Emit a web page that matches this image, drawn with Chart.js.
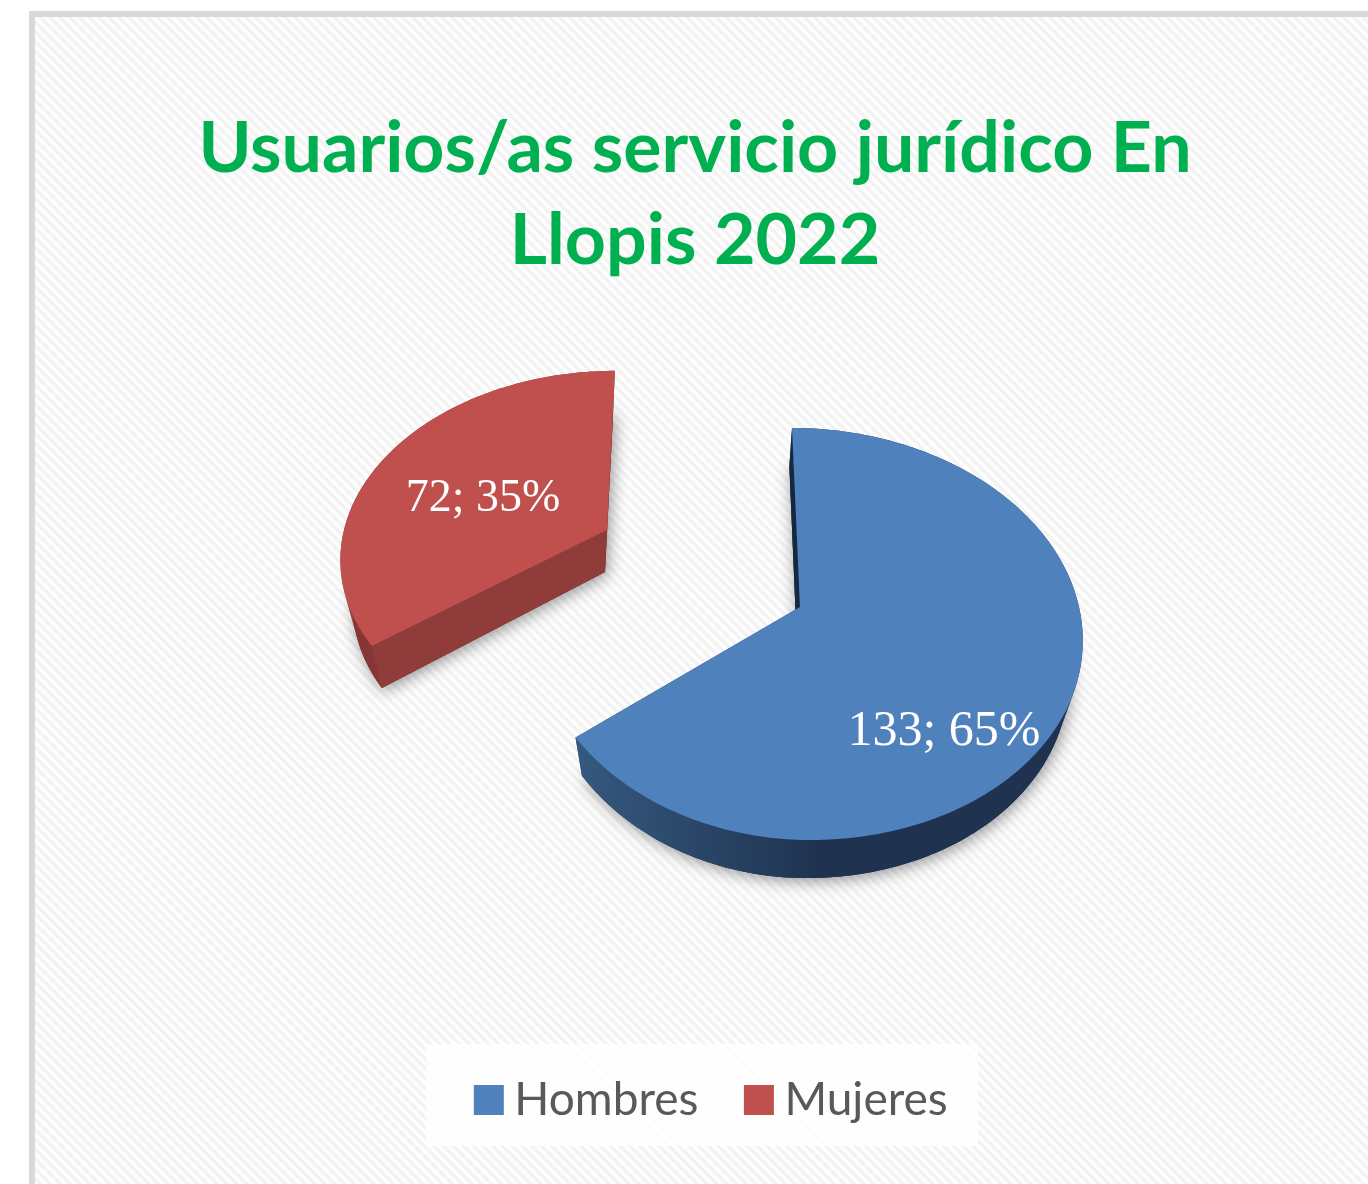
<!DOCTYPE html>
<html><head><meta charset="utf-8">
<style>html,body{margin:0;padding:0;background:#fff}canvas{display:block;filter:blur(.6px)}</style>
<script src="https://cdn.jsdelivr.net/npm/chart.js@4"></script></head>
<body><canvas id="c" width="1368" height="1184"></canvas>
<script>
const categories = ['Hombres', 'Mujeres'];
const values = [133, 72];
const percents = [65, 35];
const titleLines = ['Usuarios/as servicio jurídico En', 'Llopis 2022'];
const topColors = ['#4f81bd', '#c0504d'];

// perspective calibration of each slice (presentation only)
const P = [
 {top:{ax:800,ay:607,kxR:279,kxL:264,ky:202.5,vx:731},
  bot:{ax:797,ay:645,kxR:268,kxL:253,ky:202.5,vx:731}, lbl:[144,125], size:50},
 {top:{ax:607,ay:530,kxR:264.5,kxL:263,ky:180,vx:675},
  bot:{ax:605,ay:572,kxR:249,kxL:249,ky:180,vx:675}, lbl:[-124,-31], size:46}
];
const pers = 0.131;
function proj(f, th){
  const u=Math.sin(th), v=-Math.cos(th), s=1/(1-pers*v), k=u<0?f.kxL:f.kxR;
  return [f.ax+k*u*s+(f.ax-f.vx)*(s-1), f.ay+f.ky*v*s];
}
function arcPts(f,a,b){
  const n=Math.max(8,Math.ceil((b-a)/(Math.PI/180))), r=[];
  for(let i=0;i<=n;i++) r.push(proj(f,a+(b-a)*i/n));
  return r;
}
function poly(ctx,pts,fill){
  ctx.beginPath(); pts.forEach((p,i)=>i?ctx.lineTo(p[0],p[1]):ctx.moveTo(p[0],p[1]));
  ctx.closePath(); ctx.fillStyle=fill; ctx.fill();
}
const panelPlugin={id:'panel',
  beforeDraw(chart){
    const ctx=chart.ctx; ctx.save();
    ctx.fillStyle='#fff'; ctx.fillRect(0,0,1368,1184);
    ctx.fillStyle='#fefefe'; ctx.fillRect(29,11,1339,1173);
    ctx.save(); ctx.beginPath(); ctx.rect(29,11,1339,1173); ctx.clip();
    ctx.strokeStyle='#f3f3f3'; ctx.lineWidth=3.4;
    for(let x=-1300;x<1400;x+=9.8){ctx.beginPath();ctx.moveTo(x,0);ctx.lineTo(x+1200,1200);ctx.stroke();}
    ctx.restore();
    ctx.fillStyle='#d9d9d9'; ctx.fillRect(29,11,1339,6); ctx.fillRect(29,11,6,1173);
    ctx.fillStyle='rgba(255,255,255,.8)'; ctx.fillRect(426,1044,552,102);
    ctx.restore();
  },
  afterLayout(chart){
    const l=chart.legend; l.left+=22; l.right+=22; l.adjustHitBoxes();
  },
  beforeDatasetDraw(chart,args){
    const ctx=chart.ctx, arcs=chart.getDatasetMeta(args.index).data;
    ctx.save();
    const geo=arcs.map((e,i)=>{
      const g=e.getProps(['startAngle','endAngle'],true);
      const a=g.startAngle+Math.PI/2, b=g.endAngle+Math.PI/2, p=P[i];
      return {i,a,b,p,t:arcPts(p.top,a,b),d:arcPts(p.bot,a,b)};
    });
    for(const g of geo.slice().reverse()){
      const {i,p,t,d}=g, A=[p.top.ax,p.top.ay], B=[p.bot.ax,p.bot.ay];
      // soft shadow cast by the lower face only
      ctx.save(); ctx.shadowColor='rgba(0,0,0,.42)'; ctx.shadowBlur=16; ctx.shadowOffsetX=2; ctx.shadowOffsetY=3;
      poly(ctx,[B,...d],'#555'); ctx.restore();
      // walls
      const wall=ctx.createLinearGradient(p.top.ax-225,0,p.top.ax+20,0);
      if(i===0){wall.addColorStop(0,'#35597f');wall.addColorStop(1,'#1f3350');}
      else{wall.addColorStop(0,'#853635');wall.addColorStop(1,'#853635');}
      const n=t.length-1;
      for(let k=0;k<n;k++) poly(ctx,[t[k],t[k+1],d[k+1],d[k]],wall);
      poly(ctx,[B,...d],wall);
      poly(ctx,[A,t[n],d[n],B],i===0?wall:'#853635');
      poly(ctx,[A,t[0],d[0],B],i===0?'#142840':'#8f3c3a');
      // upper face
      poly(ctx,[A,...t],topColors[i]);
    }
    // value labels
    ctx.fillStyle='#fff'; ctx.textAlign='center'; ctx.textBaseline='middle';
    geo.forEach(g=>{
      ctx.font=g.p.size+'px "Liberation Serif"';
      ctx.fillText(values[g.i]+'; '+percents[g.i]+'%',g.p.top.ax+g.p.lbl[0],g.p.top.ay+g.p.lbl[1]);
    });
    ctx.restore();
    return false;
  }
};
new Chart(document.getElementById('c'),{
  type:'pie',
  data:{labels:categories,datasets:[{data:values,backgroundColor:topColors,borderWidth:0}]},
  options:{responsive:false,animation:false,
    layout:{padding:{left:22,right:0,top:0,bottom:51}},
    plugins:{
      tooltip:{enabled:false},
      title:{display:true,text:titleLines,color:'#00b050',
        font:{family:'Lato',weight:'bold',size:71.7,lineHeight:1.28},padding:{top:103,bottom:60}},
      legend:{position:'bottom',labels:{usePointStyle:true,pointStyle:'rect',boxWidth:5,boxHeight:30,padding:58,color:'#595959',
        font:{family:'Lato',size:46}}}
    }},
  plugins:[panelPlugin]
});
</script></body></html>
